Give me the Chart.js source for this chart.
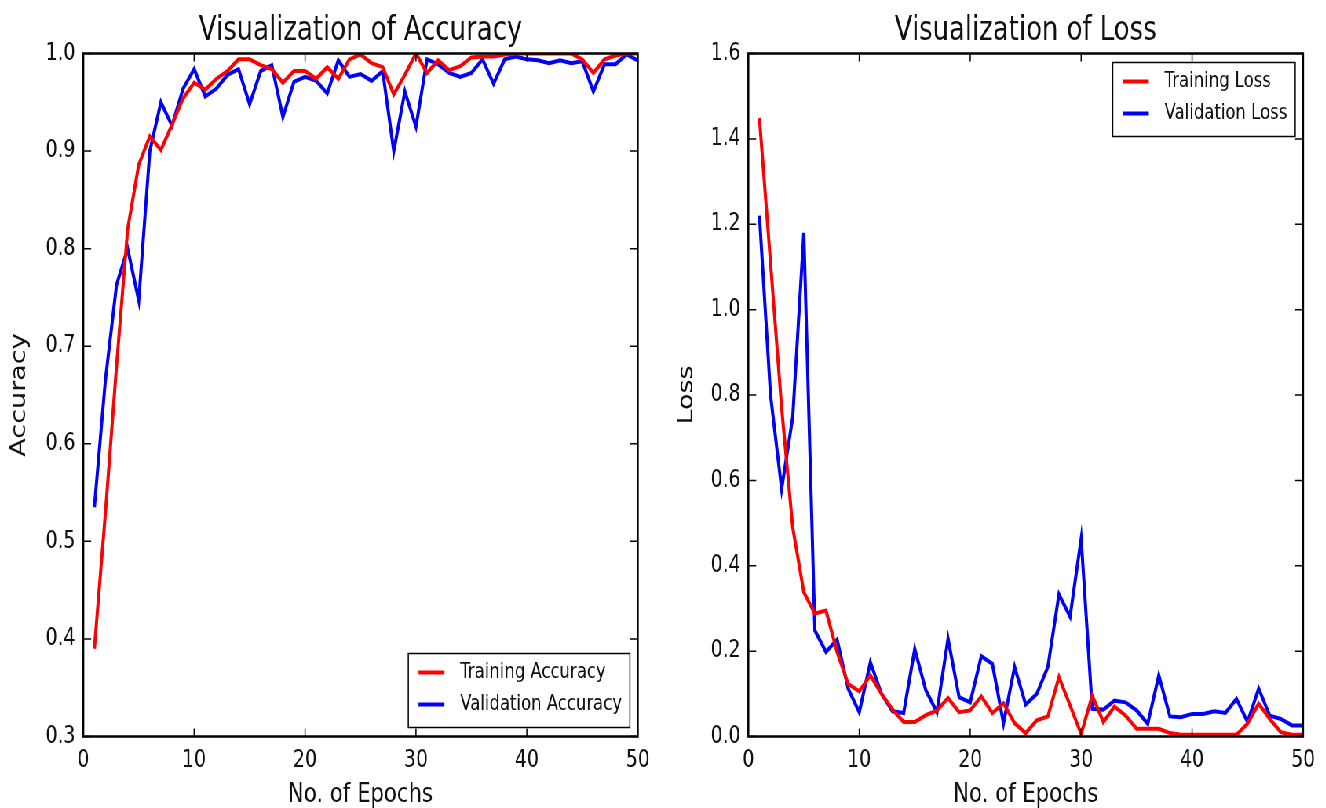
<!DOCTYPE html>
<html>
<head>
<meta charset="utf-8">
<title>Accuracy and Loss</title>
<script src="https://cdn.jsdelivr.net/npm/chart.js@4.4.1/dist/chart.umd.min.js"></script>
<style>
  html, body { margin: 0; padding: 0; background: #fff; overflow: hidden; }
  /* the reference is squeezed horizontally, so draw wide and squeeze */
  #stage { position: absolute; left: 0; top: 0; width: 1689px; height: 808px;
           transform: scaleX(0.785); transform-origin: 0 0; }
  canvas { position: absolute; top: 0; }
  #acc-chart { left: 0; }
  #loss-chart { left: 845px; }
</style>
</head>
<body>
<div id="stage">
  <canvas id="acc-chart" width="845" height="808"></canvas>
  <canvas id="loss-chart" width="844" height="808"></canvas>
</div>
<script>
const epochs = [1, 2, 3, 4, 5, 6, 7, 8, 9, 10, 11, 12, 13, 14, 15, 16, 17, 18, 19, 20,
  21, 22, 23, 24, 25, 26, 27, 28, 29, 30, 31, 32, 33, 34, 35, 36, 37, 38, 39, 40,
  41, 42, 43, 44, 45, 46, 47, 48, 49, 50];

const trainAcc = [0.39, 0.53, 0.68, 0.82, 0.886, 0.915, 0.901, 0.927, 0.954, 0.97,
  0.963, 0.974, 0.982, 0.994, 0.994, 0.988, 0.984, 0.97, 0.982, 0.982,
  0.974, 0.986, 0.974, 0.994, 0.999, 0.99, 0.986, 0.958, 0.978, 1.0,
  0.98, 0.993, 0.983, 0.987, 0.996, 0.997, 0.997, 0.999, 1.0, 1.0,
  1.0, 1.0, 1.0, 1.0, 0.994, 0.98, 0.994, 0.998, 1.0, 1.0];

const valAcc = [0.535, 0.666, 0.763, 0.80, 0.747, 0.90, 0.95, 0.926, 0.964, 0.984,
  0.956, 0.964, 0.978, 0.984, 0.948, 0.982, 0.988, 0.935, 0.971, 0.976,
  0.972, 0.959, 0.993, 0.976, 0.979, 0.972, 0.982, 0.90, 0.961, 0.925,
  0.994, 0.989, 0.98, 0.976, 0.98, 0.994, 0.969, 0.994, 0.997, 0.994,
  0.993, 0.99, 0.993, 0.99, 0.992, 0.961, 0.989, 0.989, 0.999, 0.993];

const trainLoss = [1.449, 1.11, 0.77, 0.49, 0.338, 0.288, 0.295, 0.198, 0.123, 0.106,
  0.143, 0.10, 0.063, 0.034, 0.034, 0.05, 0.061, 0.09, 0.057, 0.061,
  0.094, 0.055, 0.078, 0.031, 0.008, 0.038, 0.047, 0.139, 0.073, 0.006,
  0.096, 0.034, 0.07, 0.049, 0.018, 0.018, 0.018, 0.008, 0.004, 0.004,
  0.004, 0.004, 0.004, 0.004, 0.03, 0.077, 0.041, 0.01, 0.004, 0.004];

const valLoss = [1.22, 0.80, 0.58, 0.748, 1.18, 0.248, 0.198, 0.227, 0.112, 0.057,
  0.174, 0.10, 0.059, 0.055, 0.205, 0.108, 0.057, 0.229, 0.092, 0.08,
  0.188, 0.17, 0.031, 0.163, 0.075, 0.10, 0.163, 0.333, 0.281, 0.463,
  0.065, 0.063, 0.084, 0.08, 0.061, 0.03, 0.143, 0.047, 0.045, 0.053,
  0.053, 0.059, 0.055, 0.088, 0.034, 0.112, 0.049, 0.041, 0.026, 0.026];

const xTicks = [0, 10, 20, 30, 40, 50];
const accTicks = [0.3, 0.4, 0.5, 0.6, 0.7, 0.8, 0.9, 1.0];
const lossTicks = [0.0, 0.2, 0.4, 0.6, 0.8, 1.0, 1.2, 1.4, 1.6];

Chart.defaults.font.family = '"DejaVu Sans", sans-serif';
Chart.defaults.color = '#111';

const toXY = (vals) => epochs.map((e, i) => ({ x: e, y: vals[i] }));

// --- title centred over the plot area, like matplotlib ---
const areaTitle = {
  id: 'areaTitle',
  afterDraw(chart, args, opts) {
    const { ctx, chartArea: a } = chart;
    ctx.save();
    ctx.font = '33px "DejaVu Sans"';
    ctx.fillStyle = '#111';
    ctx.textAlign = 'center';
    ctx.textBaseline = 'middle';
    ctx.fillText(opts.text, (a.left + a.right) / 2, 31.5);
    ctx.restore();
  }
};

// --- frame with inward ticks on all four sides (matplotlib classic look) ---
const frameTicks = {
  id: 'frameTicks',
  afterDatasetsDraw(chart) {
    const { ctx, chartArea: a, scales } = chart;
    ctx.save();
    ctx.strokeStyle = '#000';
    ctx.lineWidth = 1.5;
    ctx.beginPath();
    scales.x.ticks.forEach(t => {
      const px = scales.x.getPixelForValue(t.value);
      ctx.moveTo(px, a.bottom); ctx.lineTo(px, a.bottom - 8);
      ctx.moveTo(px, a.top); ctx.lineTo(px, a.top + 8);
    });
    scales.y.ticks.forEach(t => {
      const py = scales.y.getPixelForValue(t.value);
      ctx.moveTo(a.left, py); ctx.lineTo(a.left + 10, py);
      ctx.moveTo(a.right, py); ctx.lineTo(a.right - 10, py);
    });
    ctx.stroke();
    ctx.lineWidth = 2.5;
    ctx.strokeRect(a.left, a.top, a.right - a.left, a.bottom - a.top);
    ctx.restore();
  }
};

// --- boxed legend inside the plot area ---
const boxLegend = {
  id: 'boxLegend',
  afterDraw(chart, args, opts) {
    const { ctx, chartArea: a } = chart;
    const items = chart.data.datasets;
    ctx.save();
    ctx.font = '21px "DejaVu Sans"';
    const textW = Math.max(...items.map(d => ctx.measureText(d.label).width));
    const w = 13 + 33 + 20 + textW + 10;
    const h = 74;
    const x = a.right - opts.insetX - w;
    const y = opts.corner === 'top' ? a.top + opts.insetY : a.bottom - opts.insetY - h;
    ctx.fillStyle = '#fff';
    ctx.fillRect(x, y, w, h);
    ctx.strokeStyle = '#000';
    ctx.lineWidth = 1.5;
    ctx.strokeRect(x, y, w, h);
    items.forEach((d, i) => {
      const cy = y + 19 + i * 32;
      ctx.strokeStyle = d.borderColor;
      ctx.lineWidth = 4;
      ctx.beginPath(); ctx.moveTo(x + 13, cy); ctx.lineTo(x + 46, cy); ctx.stroke();
      ctx.fillStyle = '#111';
      ctx.textBaseline = 'middle';
      ctx.fillText(d.label, x + 66, cy);
    });
    ctx.restore();
  }
};

function lineSet(label, vals, color) {
  return { label, data: toXY(vals), borderColor: color, backgroundColor: color,
           borderWidth: 4, pointRadius: 0, tension: 0, fill: false };
}

function makeChart(id, cfg) {
  return new Chart(document.getElementById(id), {
    type: 'line',
    data: { datasets: cfg.datasets },
    options: {
      responsive: false,
      animation: false,
      layout: { padding: { left: 0, right: cfg.padRight, top: 53.5, bottom: 0 } },
      plugins: {
        legend: { display: false },
        tooltip: { enabled: false },
        title: { display: false },
        areaTitle: { text: cfg.title },
        boxLegend: cfg.legend
      },
      scales: {
        x: {
          type: 'linear', min: 0, max: 50,
          afterBuildTicks: s => { s.ticks = xTicks.map(v => ({ value: v })); },
          ticks: { font: { size: 24 }, padding: 10, maxRotation: 0, callback: v => String(v) },
          grid: { display: false, drawTicks: false },
          border: { display: false },
          title: { display: true, text: 'No. of Epochs', font: { size: 27, lineHeight: 1 }, padding: 0 },
          afterFit: s => { s.height = 71.5; }
        },
        y: {
          min: cfg.yMin, max: cfg.yMax,
          afterBuildTicks: s => { s.ticks = cfg.yTicks.map(v => ({ value: v })); },
          ticks: { font: { size: 24 }, padding: 10, callback: v => Number(v).toFixed(1) },
          grid: { display: false, drawTicks: false },
          border: { display: false },
          title: { display: true, text: cfg.yTitle, font: { size: 27, lineHeight: 1 },
                   padding: { top: cfg.yTitlePad, bottom: 0 } },
          afterFit: s => { s.width = cfg.yWidth; }
        }
      }
    },
    plugins: [frameTicks, boxLegend, areaTitle]
  });
}

makeChart('acc-chart', {
  title: 'Visualization of Accuracy',
  yTitle: 'Accuracy',
  yMin: 0.3, yMax: 1.0, yTicks: accTicks,
  yWidth: 106.1, yTitlePad: 11, padRight: 32.6,
  datasets: [
    lineSet('Training Accuracy', trainAcc, '#ff0000'),
    lineSet('Validation Accuracy', valAcc, '#0000ff')
  ],
  legend: { corner: 'bottom', insetX: 10, insetY: 9 }
});

makeChart('loss-chart', {
  title: 'Visualization of Loss',
  yTitle: 'Loss',
  yMin: 0, yMax: 1.6, yTicks: lossTicks,
  yWidth: 108.3, yTitlePad: 16, padRight: 29.1,
  datasets: [
    lineSet('Training Loss', trainLoss, '#ff0000'),
    lineSet('Validation Loss', valLoss, '#0000ff')
  ],
  legend: { corner: 'top', insetX: 10, insetY: 9 }
});
</script>
</body>
</html>
